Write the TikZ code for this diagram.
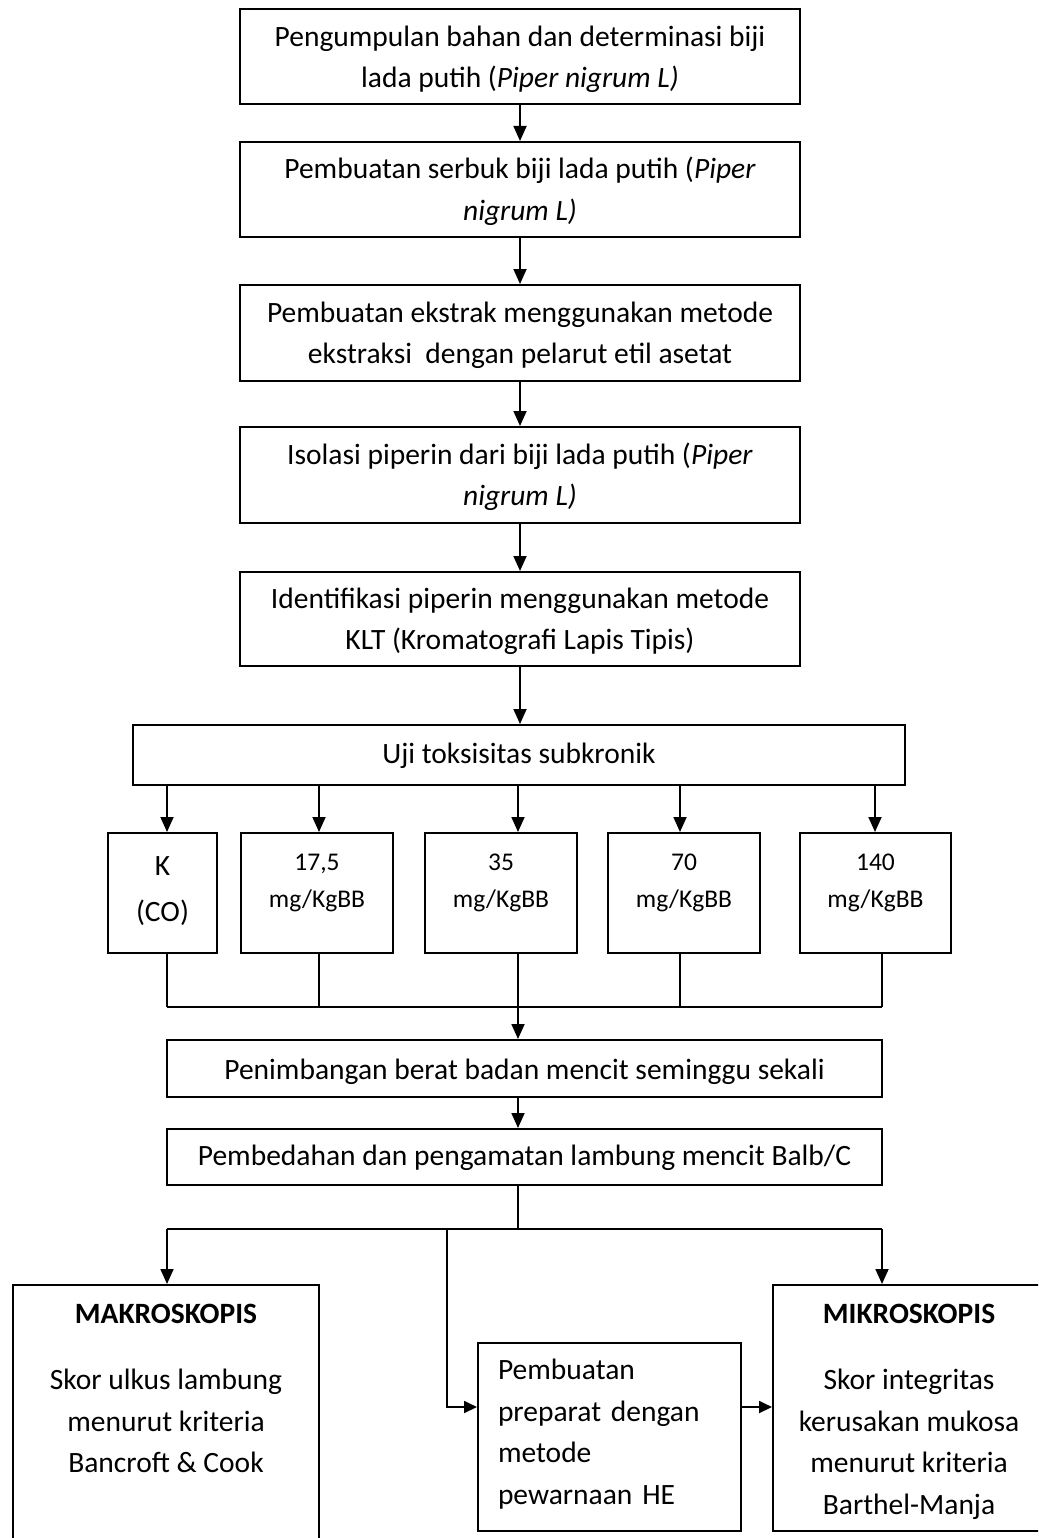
\documentclass[tikz,border=0pt]{standalone}
\usepackage{fontspec}
\setmainfont{Carlito}
\usetikzlibrary{arrows.meta}
\newcommand\myht[1]{\rule{0pt}{#1pt}}
\newcommand\mydp[1]{\rule[-#1pt]{0pt}{#1pt}}
\begin{document}
\begin{tikzpicture}[x=1pt,y=-1pt,
  box/.style={draw, line width=2pt, inner sep=0pt, align=center, font=\fontsize{29.5}{41.5}\selectfont},
  dose/.style={box, minimum width=152pt, minimum height=120pt, font=\fontsize{25.5}{37}\selectfont},
  conn/.style={line width=1.8pt},
  arr/.style={conn, -{Triangle[length=15pt,width=13pt]}},
  sarr/.style={conn, -{Triangle[length=13pt,width=12pt]}}]
\useasboundingbox (0,0) rectangle (1038,1538);
\fill[white] (0,0) rectangle (1038,1538);
\clip (0,0) rectangle (1038,1538);

% main chain
\node[box, minimum width=560pt, minimum height=95pt] (n1) at (520,56.5)
  {\myht{31}Pengumpulan bahan dan determinasi biji\\ lada putih (\textit{Piper nigrum L)}\mydp{10}};
\node[box, minimum width=560pt, minimum height=95pt] (n2) at (520,189.5)
  {\myht{30}Pembuatan serbuk biji lada putih (\textit{Piper}\\ \textit{nigrum L)}\mydp{10}};
\node[box, minimum width=560pt, minimum height=96pt] (n3) at (520,333)
  {\myht{30}Pembuatan ekstrak menggunakan metode\\ ekstraksi\ \ dengan pelarut etil asetat\mydp{10}};
\node[box, minimum width=560pt, minimum height=96pt] (n4) at (520,475)
  {\myht{30}Isolasi piperin dari biji lada putih (\textit{Piper}\\ \textit{nigrum L)}\mydp{10}};
\node[box, minimum width=560pt, minimum height=94pt] (n5) at (520,619)
  {\myht{30}Identifikasi piperin menggunakan metode\\ KLT (Kromatografi Lapis Tipis)\mydp{10}};
\node[box, minimum width=772pt, minimum height=60pt] (n6) at (519,755)
  {\myht{26}Uji toksisitas subkronik\mydp{10}};

% dose groups
\node[box, minimum width=109pt, minimum height=120pt, font=\fontsize{29.5}{46}\selectfont] (d0) at (162.5,893)
  {\myht{30}K\\(CO)\mydp{20}};
\node[dose] (d1) at (317,893) {\myht{21}17,5\\mg/KgBB\mydp{30}};
\node[dose] (d2) at (501,893) {\myht{21}35\\mg/KgBB\mydp{30}};
\node[dose] (d3) at (684,893) {\myht{21}70\\mg/KgBB\mydp{30}};
\node[dose, minimum width=151pt] (d4) at (875.5,893) {\myht{21}140\\mg/KgBB\mydp{30}};

\node[box, minimum width=715pt, minimum height=57pt] (n7) at (524.5,1068.5)
  {\myht{31}Penimbangan berat badan mencit seminggu sekali\mydp{10}};
\node[box, minimum width=715pt, minimum height=56pt] (n8) at (524.5,1157)
  {\myht{26}Pembedahan dan pengamatan lambung mencit Balb/C\mydp{10}};

% bottom row
\node[box, minimum width=306pt, minimum height=275pt] (makro) at (166,1422.5)
  {\myht{30}\textbf{MAKROSKOPIS}\\[25pt] Skor ulkus lambung\\ menurut kriteria\\ Bancroft \& Cook\mydp{79}};
\node[box, minimum width=263pt, minimum height=188pt, text width=223pt, align=left] (prep) at (609.5,1437)
  {\myht{24}Pembuatan\\ preparat dengan\\ metode\\ pewarnaan HE\mydp{14}};
\node[box, minimum width=272pt, minimum height=246pt] (mikro) at (909,1408)
  {\myht{31}\textbf{MIKROSKOPIS}\\[25pt] Skor integritas\\ kerusakan mukosa\\ menurut kriteria\\ Barthel-Manja\mydp{10}};

% connectors
\draw[arr] (n1.south) -- (n2.north);
\draw[arr] (n2.south) -- (n3.north);
\draw[arr] (n3.south) -- (n4.north);
\draw[arr] (n4.south) -- (n5.north);
\draw[arr] (n5.south) -- (n5.south |- n6.north);

\coordinate (x0) at (167,0);
\coordinate (x1) at (319,0);
\coordinate (x2) at (518,0);
\coordinate (x3) at (680,0);
\coordinate (x4) at (875,0);
\foreach \i in {0,...,4} {\draw[arr] (x\i |- n6.south) -- (x\i |- d\i.north);}

\coordinate (y0) at (167,0);
\coordinate (y1) at (319,0);
\coordinate (y2) at (518,0);
\coordinate (y3) at (680,0);
\coordinate (y4) at (882,0);
\coordinate (jn) at (0,1007);
\foreach \i in {0,...,4} {\draw[conn] (y\i |- d\i.south) -- (y\i |- jn);}
\draw[conn] (y0 |- jn) -- (y4 |- jn);
\draw[arr] (y2 |- jn) -- (y2 |- n7.north);
\draw[arr] (y2 |- n7.south) -- (y2 |- n8.north);

\coordinate (sp) at (0,1229);
\draw[conn] (y2 |- n8.south) -- (y2 |- sp);
\draw[conn] (y0 |- sp) -- (y4 |- sp);
\draw[arr] (y0 |- sp) -- (y0 |- makro.north);
\draw[arr] (y4 |- sp) -- (y4 |- mikro.north);

\coordinate (mid) at (447,1229);
\coordinate (hy) at (0,1407);
\draw[sarr] (mid) -- (mid |- hy) -- (prep.west |- hy);
\draw[sarr] (prep.east |- hy) -- (mikro.west |- hy);
\end{tikzpicture}
\end{document}
